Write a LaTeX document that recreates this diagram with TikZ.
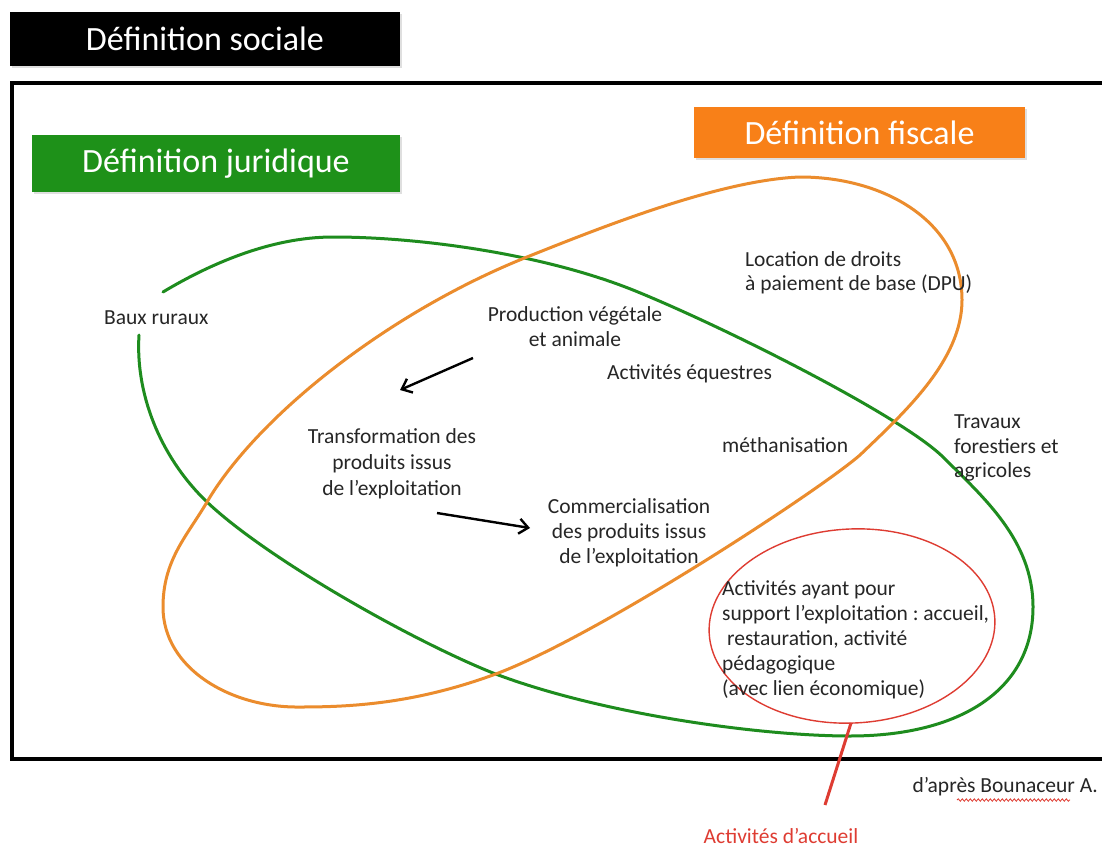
\documentclass[tikz,border=0pt]{standalone}
\usepackage{fontspec}
\setmainfont{Carlito}
\usetikzlibrary{arrows.meta,shadows,decorations.pathmorphing}
\definecolor{jurgreen}{RGB}{30,145,25}
\definecolor{ellgreen}{RGB}{30,140,30}
\definecolor{fiscorange}{RGB}{248,128,24}
\definecolor{ellorange}{RGB}{235,140,45}
\definecolor{accred}{RGB}{222,60,50}
\frenchspacing
\begin{document}
\begin{tikzpicture}[x=1pt,y=-1pt,
  titlebox/.style={inner sep=0pt, text=white, font=\fontsize{34}{40}\selectfont,
    drop shadow={opacity=0.25,shadow xshift=1.5pt,shadow yshift=-2pt}},
  lbl/.style={inner sep=0pt, text=black!85, font=\fontsize{21.5}{25}\selectfont},
  curve/.style={line width=3pt, line join=round, line cap=round},
  flow/.style={line width=2.4pt, -{Straight Barb[length=9pt,width=15pt,line width=2.4pt]}}
]
\useasboundingbox (0,0) rectangle (1102,848);
\clip (0,0) rectangle (1102,848);
% frame
\draw[line width=3.5pt, drop shadow={opacity=0.2,shadow xshift=1.5pt,shadow yshift=-1.5pt}, fill=white] (12,83) rectangle (1120,759);
% title boxes
\node[titlebox, fill=black, minimum width=390pt, minimum height=54pt] (sociale) at (205,39) {Définition sociale};
\node[titlebox, fill=jurgreen, minimum width=368pt, minimum height=57pt] (juridique) at (216,163.5) {Définition juridique};
\node[titlebox, fill=fiscorange, minimum width=331pt, minimum height=51pt] (fiscale) at (859.5,132.5) {Définition fiscale};
% green (juridique) curve, open at "Baux ruraux"
\draw[ellgreen, curve] (139,335)
  .. controls (135,400) and (165,462) .. (207,502)
  .. controls (267,559) and (413,641) .. (493,673)
  .. controls (600,714) and (760,736) .. (850,736)
  .. controls (960,736) and (1033,690) .. (1033,607)
  .. controls (1033,540) and (983,497) .. (943,457)
  .. controls (900,415) and (720,325) .. (633,290)
  .. controls (543,254) and (420,237) .. (333,237)
  .. controls (270,237) and (208,265) .. (163,292);
% orange (fiscale) curve
\draw[ellorange, curve] (207,502)
  .. controls (257,417) and (387,313) .. (527,257)
  .. controls (602,227) and (720,180) .. (800,177)
  .. controls (885,177) and (962,222) .. (962,300)
  .. controls (962,360) and (905,412) .. (860,455)
  .. controls (820,490) and (593,639) .. (493,675)
  .. controls (413,704) and (350,707) .. (300,707)
  .. controls (230,708) and (163,668) .. (163,607)
  .. controls (163,560) and (187,536) .. cycle;
% red (accueil) ellipse
\draw[accred, line width=1.4pt, rotate around={3:(852,626)}] (852,626) ellipse [x radius=143, y radius=97];
% labels
\node[lbl, anchor=west] (baux) at (104,318) {Baux ruraux};
\node[lbl, anchor=west, align=left, font=\fontsize{21.5}{24}\selectfont] (location) at (745,273) {Location de droits\\à paiement de base (DPU)};
\node[lbl, align=center] (production) at (575,327) {Production végétale\\et animale};
\node[lbl, anchor=west] (equestres) at (607,374) {Activités équestres};
\node[lbl, align=center, font=\fontsize{21.5}{26}\selectfont] (transformation) at (392,464) {Transformation des\\produits issus\\de l’exploitation};
\node[lbl, anchor=west] (methan) at (722,445) {méthanisation};
\node[lbl, anchor=west, align=left, font=\fontsize{21.5}{24.5}\selectfont] (travaux) at (954,448) {Travaux\\forestiers et\\agricoles};
\node[lbl, align=center] (commerc) at (629,533) {Commercialisation\\des produits issus\\de l’exploitation};
\node[lbl, anchor=west, align=left] (activites) at (722,640) {Activités ayant pour\\support l’exploitation : accueil,\\\ restauration, activité\\pédagogique\\(avec lien économique)};
% arrows
\coordinate (a1s) at (473,358);
\coordinate (a1e) at (400,390);
\coordinate (a2s) at (437,513);
\coordinate (a2e) at (530,528);
\draw[flow] (a1s) -- (a1e);
\draw[flow] (a2s) -- (a2e);
% red connector and label
\coordinate (redtop) at (851,723);
\node[inner sep=0pt, anchor=base, text=accred, font=\fontsize{21.5}{24}\selectfont] (accueil) at (781,843) {Activités d’accueil};
\coordinate (redend) at (825,805);
\draw[accred, line width=3pt] (redtop) -- (redend);
% source
\node[lbl, anchor=east] (source) at (1098,787) {d’après Bounaceur A.};
\coordinate (sqa) at (957,800);
\coordinate (sqb) at (1070,800);
\draw[accred, line width=0.8pt, decorate, decoration={snake, amplitude=1.2pt, segment length=4pt}] (sqa) -- (sqb);
\end{tikzpicture}
\end{document}
